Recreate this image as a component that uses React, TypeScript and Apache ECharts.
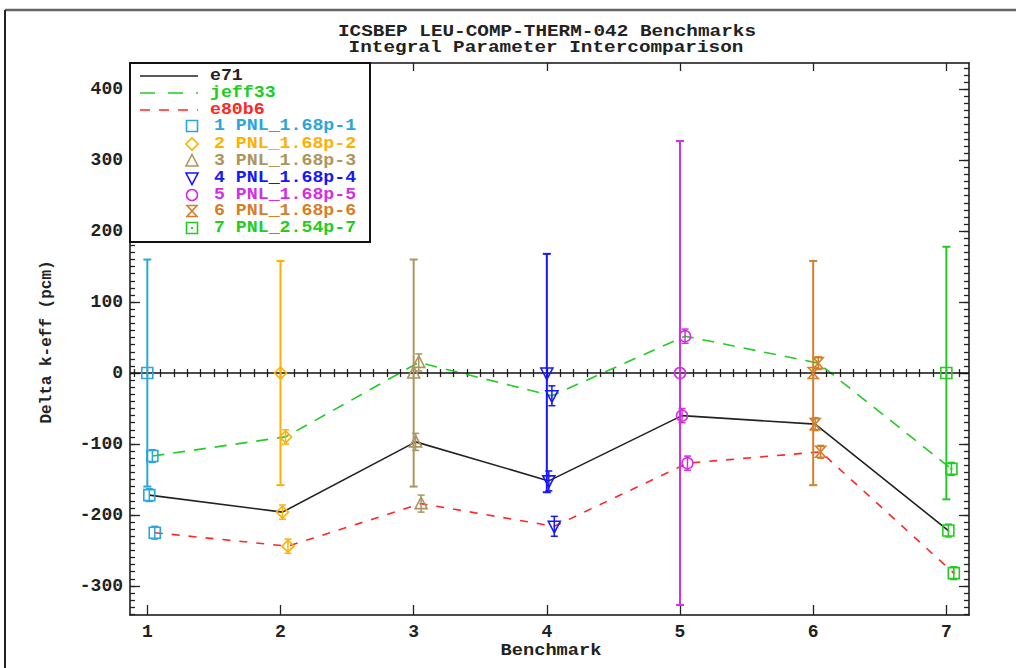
import React, { useEffect, useRef } from "react";
import * as echarts from "echarts";

const BENCHMARKS = [1, 2, 3, 4, 5, 6, 7];
const EXP_UNC = [160, 158, 160, 168, 327, 158, 178];
const E71 = [-172, -196, -97, -152, -60, -72, -222];
const JEFF33 = [-117, -90, 15, -32, 52, 14, -135];
const E80B6 = [-225, -244, -184, -216, -127, -111, -282];
const CALC_UNC = [9, 10, 12, 14, 10, 9, 9];
const CASE_LABELS = [
  "1 PNL_1.68p-1",
  "2 PNL_1.68p-2",
  "3 PNL_1.68p-3",
  "4 PNL_1.68p-4",
  "5 PNL_1.68p-5",
  "6 PNL_1.68p-6",
  "7 PNL_2.54p-7",
];
const CASE_COLORS = ["#2ba6d8", "#ffb000", "#ab9560", "#1515ff", "#d42ee2", "#d47f2a", "#22cc22"];
const LIB_NAMES = ["e71", "jeff33", "e80b6"];
const LIB_COLORS = ["#222222", "#22cc22", "#ff2626"];
const LIB_DASH: any[] = ["solid", [12, 9], [8, 9]];
const LIB_OFFSETS = [0.015, 0.038, 0.056];
const X_TICKS = [1, 2, 3, 4, 5, 6, 7];
const Y_TICKS = [-300, -200, -100, 0, 100, 200, 300, 400];
const X_MIN = 0.87, X_MAX = 7.17, Y_MIN = -341, Y_MAX = 437;

const FONT = "Liberation Mono";

function xMinor() {
  const out: number[] = [];
  for (let k = 9; k <= 71; k++) out.push(k / 10);
  return out;
}
function yMinor() {
  const out: number[] = [];
  for (let k = -34; k <= 43; k++) out.push(k * 10);
  return out;
}

function markerEls(kind: number, cx: number, cy: number, color: string, z?: number) {
  const s = 5.5;
  const st = { fill: "none", stroke: color, lineWidth: 1.6 };
  const zz = z === undefined ? {} : { z };
  switch (kind) {
    case 0:
      return [{ type: "rect", ...zz, shape: { x: cx - s, y: cy - s, width: 2 * s, height: 2 * s }, style: st }];
    case 1:
      return [{ type: "polygon", ...zz, shape: { points: [[cx, cy - 6], [cx + 6, cy], [cx, cy + 6], [cx - 6, cy]] }, style: st }];
    case 2:
      return [{ type: "polygon", ...zz, shape: { points: [[cx, cy - 6.5], [cx + 6, cy + 5], [cx - 6, cy + 5]] }, style: st }];
    case 3:
      return [{ type: "polygon", ...zz, shape: { points: [[cx - 6, cy - 5], [cx + 6, cy - 5], [cx, cy + 6.5]] }, style: st }];
    case 4:
      return [{ type: "circle", ...zz, shape: { cx, cy, r: s }, style: st }];
    case 5:
      return [{ type: "polygon", ...zz, shape: { points: [[cx - 5, cy - 5.5], [cx + 5, cy - 5.5], [cx - 5, cy + 5.5], [cx + 5, cy + 5.5]] }, style: st }];
    default:
      return [
        { type: "rect", ...zz, shape: { x: cx - s, y: cy - s, width: 2 * s, height: 2 * s }, style: st },
        { type: "rect", ...zz, shape: { x: cx - 1, y: cy - 1, width: 2, height: 2 }, style: { fill: color } },
      ];
  }
}

function errBar(x: number, y1: number, y2: number, color: string, cap: number, w: number) {
  return [
    { type: "line", shape: { x1: x, y1, x2: x, y2 }, style: { stroke: color, lineWidth: w } },
    { type: "line", shape: { x1: x - cap, y1, x2: x + cap, y2: y1 }, style: { stroke: color, lineWidth: w } },
    { type: "line", shape: { x1: x - cap, y1: y2, x2: x + cap, y2 }, style: { stroke: color, lineWidth: w } },
  ];
}

export default function App() {
  const ref = useRef<HTMLDivElement>(null);
  useEffect(() => {
    if (!ref.current) return;
    const chart = echarts.init(ref.current, null, { renderer: "svg" });
    const libs = [E71, JEFF33, E80B6];

    const caseData = BENCHMARKS.map((b, i) => [b, EXP_UNC[i], E71[i], JEFF33[i], E80B6[i], CALC_UNC[i]]);

    const renderItem = (params: any, api: any) => {
      const i = params.dataIndex;
      const color = CASE_COLORS[i];
      const b = api.value(0);
      const unc = api.value(1);
      const cu = api.value(5);
      const children: any[] = [];
      const top = api.coord([b, unc]);
      const bot = api.coord([b, -unc]);
      children.push(...errBar(top[0], top[1], bot[1], color, 4, 2));
      const p0 = api.coord([b, 0]);
      children.push(...markerEls(i, p0[0], p0[1], color));
      [2, 3, 4].forEach((d, k) => {
        const v = api.value(d);
        const xo = b + LIB_OFFSETS[k];
        const a = api.coord([xo, v + cu]);
        const c = api.coord([xo, v - cu]);
        const p = api.coord([xo, v]);
        children.push(...errBar(p[0], a[1], c[1], color, 3.5, 1.5));
        children.push(...markerEls(i, p[0], p[1], color));
      });
      return { type: "group", children };
    };

    const lineSeries = libs.map((arr, k) => ({
      type: "line",
      name: LIB_NAMES[k],
      xAxisIndex: 0,
      yAxisIndex: 0,
      data: arr.map((v, i) => [BENCHMARKS[i] + LIB_OFFSETS[k], v]),
      showSymbol: false,
      symbol: "none",
      lineStyle: { color: LIB_COLORS[k], width: 1.6, type: LIB_DASH[k] },
      z: 3,
      ...(k === 0
        ? {
            markLine: {
              silent: true,
              symbol: "none",
              label: { show: false },
              lineStyle: { color: "#111", width: 1.5, type: "solid" },
              data: [{ yAxis: 0 }],
            },
          }
        : {}),
    }));

    const axisCommon = {
      type: "value",
      splitLine: { show: false },
      axisLine: { show: true, onZero: false, lineStyle: { color: "#111", width: 1.5 } },
    };
    const labelStyle = { fontFamily: FONT, fontWeight: "bold", fontSize: 18, color: "#222" };
    const tickStyle = { color: "#222", width: 1.3 };

    const xAxes = [
      { ...axisCommon, position: "bottom", min: X_MIN, max: X_MAX,
        axisTick: { show: true, inside: true, length: 10, customValues: X_TICKS, lineStyle: tickStyle },
        axisLabel: { show: true, margin: 8, customValues: X_TICKS, ...labelStyle } },
      { ...axisCommon, position: "bottom", min: X_MIN, max: X_MAX, axisLine: { show: false },
        axisTick: { show: true, inside: true, length: 4, customValues: xMinor(), lineStyle: tickStyle },
        axisLabel: { show: false } },
      { ...axisCommon, position: "top", min: X_MIN, max: X_MAX,
        axisTick: { show: true, inside: true, length: 8, customValues: X_TICKS, lineStyle: tickStyle },
        axisLabel: { show: false } },
      { ...axisCommon, position: "top", min: X_MIN, max: X_MAX, axisLine: { show: false },
        axisTick: { show: true, inside: true, length: 4, customValues: xMinor(), lineStyle: tickStyle },
        axisLabel: { show: false } },
    ];
    const yAxes = [
      { ...axisCommon, position: "left", min: Y_MIN, max: Y_MAX,
        axisTick: { show: true, inside: true, length: 10, customValues: Y_TICKS, lineStyle: tickStyle },
        axisLabel: { show: true, margin: 7, customValues: Y_TICKS, ...labelStyle } },
      { ...axisCommon, position: "left", min: Y_MIN, max: Y_MAX, axisLine: { show: false },
        axisTick: { show: true, inside: true, length: 5, customValues: yMinor(), lineStyle: tickStyle },
        axisLabel: { show: false } },
      { ...axisCommon, position: "right", min: Y_MIN, max: Y_MAX,
        axisTick: { show: true, inside: true, length: 10, customValues: Y_TICKS, lineStyle: tickStyle },
        axisLabel: { show: false } },
      { ...axisCommon, position: "right", min: Y_MIN, max: Y_MAX, axisLine: { show: false },
        axisTick: { show: true, inside: true, length: 5, customValues: yMinor(), lineStyle: tickStyle },
        axisLabel: { show: false } },
    ];

    // Legend graphic
    const LZ = 100;
    const legendEls: any[] = [
      { type: "rect", z: LZ, shape: { x: 130, y: 63, width: 240, height: 179 }, style: { fill: "#fff", stroke: "#111", lineWidth: 2 } },
    ];
    const libY = [76, 93, 110];
    LIB_NAMES.forEach((n, k) => {
      legendEls.push({
        type: "line", z: LZ + 1,
        shape: { x1: 140, y1: libY[k], x2: 198, y2: libY[k] },
        style: { stroke: LIB_COLORS[k], lineWidth: 1.6, lineDash: k === 0 ? null : (k === 1 ? [15, 13] : [10, 9]) },
      });
      legendEls.push({
        type: "text", z: LZ + 1, x: 210, y: libY[k], scaleX: 1.14,
        style: { text: n, fill: LIB_COLORS[k], font: `bold 16px "${FONT}"`, textVerticalAlign: "middle", verticalAlign: "middle" },
      });
    });
    const caseY = [126, 144, 161, 178, 195, 211, 228];
    CASE_LABELS.forEach((t, i) => {
      legendEls.push(...markerEls(i, 192, caseY[i], CASE_COLORS[i], LZ + 1));
      legendEls.push({
        type: "text", z: LZ + 1, x: 214, y: caseY[i], scaleX: 1.14,
        style: { text: t, fill: CASE_COLORS[i], font: `bold 16px "${FONT}"`, verticalAlign: "middle", textVerticalAlign: "middle" },
      });
    });

    const graphicEls: any[] = [
      { type: "line", z: 50, shape: { x1: 5, y1: 10, x2: 1016, y2: 10 }, style: { stroke: "#666", lineWidth: 2.5 } },
      { type: "line", z: 50, shape: { x1: 5, y1: 10, x2: 5, y2: 668 }, style: { stroke: "#222", lineWidth: 2 } },
      { type: "text", z: 50, x: 547, y: 31, scaleX: 1.21,
        style: { text: "ICSBEP LEU-COMP-THERM-042 Benchmarks", fill: "#222", font: `bold 16px "${FONT}"`, align: "center", textAlign: "center", verticalAlign: "middle", textVerticalAlign: "middle" } },
      { type: "text", z: 50, x: 546, y: 47, scaleX: 1.21,
        style: { text: "Integral Parameter Intercomparison", fill: "#222", font: `bold 16px "${FONT}"`, align: "center", textAlign: "center", verticalAlign: "middle", textVerticalAlign: "middle" } },
      { type: "text", z: 50, x: 551, y: 651, scaleX: 1.17,
        style: { text: "Benchmark", fill: "#222", font: `bold 16px "${FONT}"`, align: "center", textAlign: "center", verticalAlign: "middle", textVerticalAlign: "middle" } },
      { type: "text", z: 50, x: 47, y: 342, rotation: Math.PI / 2,
        style: { text: "Delta k-eff (pcm)", fill: "#222", font: `bold 16px "${FONT}"`, align: "center", textAlign: "center", verticalAlign: "middle", textVerticalAlign: "middle" } },
      ...legendEls,
    ];

    chart.setOption({
      animation: false,
      backgroundColor: "#fff",
      grid: { left: 130, top: 63, right: 47, bottom: 53, containLabel: false },
      xAxis: xAxes,
      yAxis: yAxes,
      series: [
        ...lineSeries,
        {
          type: "custom",
          name: "cases",
          xAxisIndex: 0,
          yAxisIndex: 0,
          data: caseData,
          encode: { x: 0, y: 1 },
          renderItem,
          z: 5,
        },
      ],
      graphic: { elements: graphicEls },
    });
    return () => chart.dispose();
  }, []);

  return (
    <div
      ref={ref}
      style={{ position: "absolute", left: 0, top: 0, width: 1016, height: 668, background: "#fff" }}
    />
  );
}
